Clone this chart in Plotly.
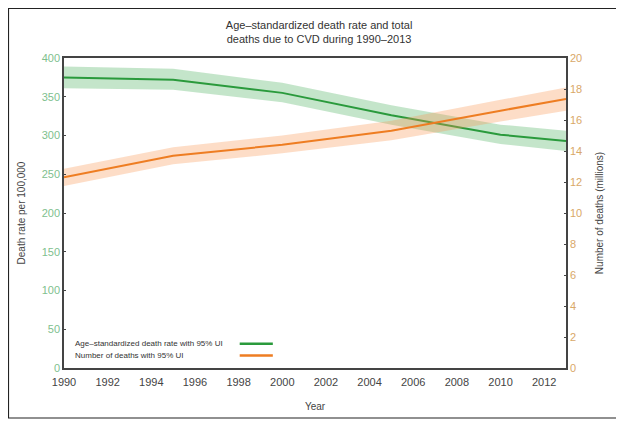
import plotly.graph_objects as go

years = [1990, 1995, 2000, 2005, 2010, 2013]

# age-standardized death rate per 100,000 with 95% UI
rate = [375, 372, 355, 326, 301, 293]
rate_lo = [361, 359, 343, 314, 289, 280]
rate_hi = [389, 386, 368, 339, 314, 306]

# total deaths (millions) with 95% UI
deaths = [12.3, 13.7, 14.4, 15.3, 16.6, 17.35]
deaths_lo = [11.75, 13.15, 13.85, 14.7, 15.9, 16.6]
deaths_hi = [12.85, 14.25, 15.0, 15.95, 17.3, 18.1]

x_ticks = list(range(1990, 2013, 2))
left_ticks = list(range(0, 401, 50))
right_ticks = list(range(0, 21, 2))

GREEN = "#2a9a3c"
GREEN_BAND = "rgba(60,170,80,0.30)"
ORANGE = "#ee7d22"
ORANGE_BAND = "rgba(250,150,80,0.32)"
FONT = "Liberation Sans, Arial, sans-serif"

fig = go.Figure()

# green band + line (left axis)
fig.add_trace(go.Scatter(x=years, y=rate_hi, mode="lines", line=dict(width=0),
                         hoverinfo="skip", showlegend=False))
fig.add_trace(go.Scatter(x=years, y=rate_lo, mode="lines", line=dict(width=0),
                         fill="tonexty", fillcolor=GREEN_BAND,
                         hoverinfo="skip", showlegend=False))
fig.add_trace(go.Scatter(x=years, y=rate, mode="lines",
                         line=dict(color=GREEN, width=2), showlegend=False))

# orange band + line (right axis)
fig.add_trace(go.Scatter(x=years, y=deaths_hi, mode="lines", line=dict(width=0),
                         yaxis="y2", hoverinfo="skip", showlegend=False))
fig.add_trace(go.Scatter(x=years, y=deaths_lo, mode="lines", line=dict(width=0),
                         fill="tonexty", fillcolor=ORANGE_BAND, yaxis="y2",
                         hoverinfo="skip", showlegend=False))
fig.add_trace(go.Scatter(x=years, y=deaths, mode="lines", yaxis="y2",
                         line=dict(color=ORANGE, width=2), showlegend=False))

axis_line = dict(showline=True, linecolor="#444444", linewidth=1.5, zeroline=False,
                 showgrid=False)

# page body has an 8px margin, so the figure is sized to the visible part
fig.update_layout(
    width=616,
    height=417,
    margin=dict(l=56, r=58, t=50, b=57),
    plot_bgcolor="white",
    paper_bgcolor="white",
    font=dict(family=FONT, size=11, color="#333333"),
    title=dict(
        text="Age\u2013standardized death rate and total<br>deaths due to CVD during 1990\u20132013",
        x=0.505, xanchor="center", y=0.95, yanchor="top",
        font=dict(size=11, color="#333333"),
    ),
    xaxis=dict(
        **axis_line,
        range=[1990, 2013],
        tickvals=x_ticks,
        ticks="",
        mirror=True,
        ticklabelstandoff=3,
        tickfont=dict(size=11, color="#444444"),
        title=dict(text="Year", font=dict(size=10, color="#444444"), standoff=16),
    ),
    yaxis=dict(
        **axis_line,
        range=[0, 400],
        tickvals=left_ticks,
        ticks="inside",
        ticklen=2,
        tickcolor="#444444",
        tickfont=dict(size=11, color="#80bf8e"),
        title=dict(text="Death rate per 100,000", font=dict(size=10, color="#444444"),
                   standoff=14),
    ),
    yaxis2=dict(
        **axis_line,
        overlaying="y",
        side="right",
        range=[0, 20],
        tickvals=right_ticks,
        ticks="inside",
        ticklen=2,
        tickcolor="#444444",
        tickfont=dict(size=11, color="#d9a868"),
        title=dict(text="Number of deaths (millions)", font=dict(size=10, color="#444444"),
                   standoff=15),
    ),
)

# outer frame around the whole picture
fig.add_shape(type="rect", xref="paper", yref="paper",
              x0=-0.1106, x1=1.1016, y0=-0.1613, y1=1.1597,
              line=dict(color="#222222", width=1.2))

# legend drawn as in the original: text on the left, sample line on the right
legend_items = [
    ("Age\u2013standardized death rate with 95% UI", GREEN, 0.078),
    ("Number of deaths with 95% UI", ORANGE, 0.040),
]
for label, color, yp in legend_items:
    fig.add_annotation(text=label, xref="paper", yref="paper", x=0.018, y=yp,
                       xanchor="left", yanchor="middle", showarrow=False,
                       font=dict(size=8, color="#333333"))
    fig.add_shape(type="line", xref="paper", yref="paper",
                  x0=0.35, x1=0.416, y0=yp, y1=yp,
                  line=dict(color=color, width=2.5))

fig.write_html("out.html")
